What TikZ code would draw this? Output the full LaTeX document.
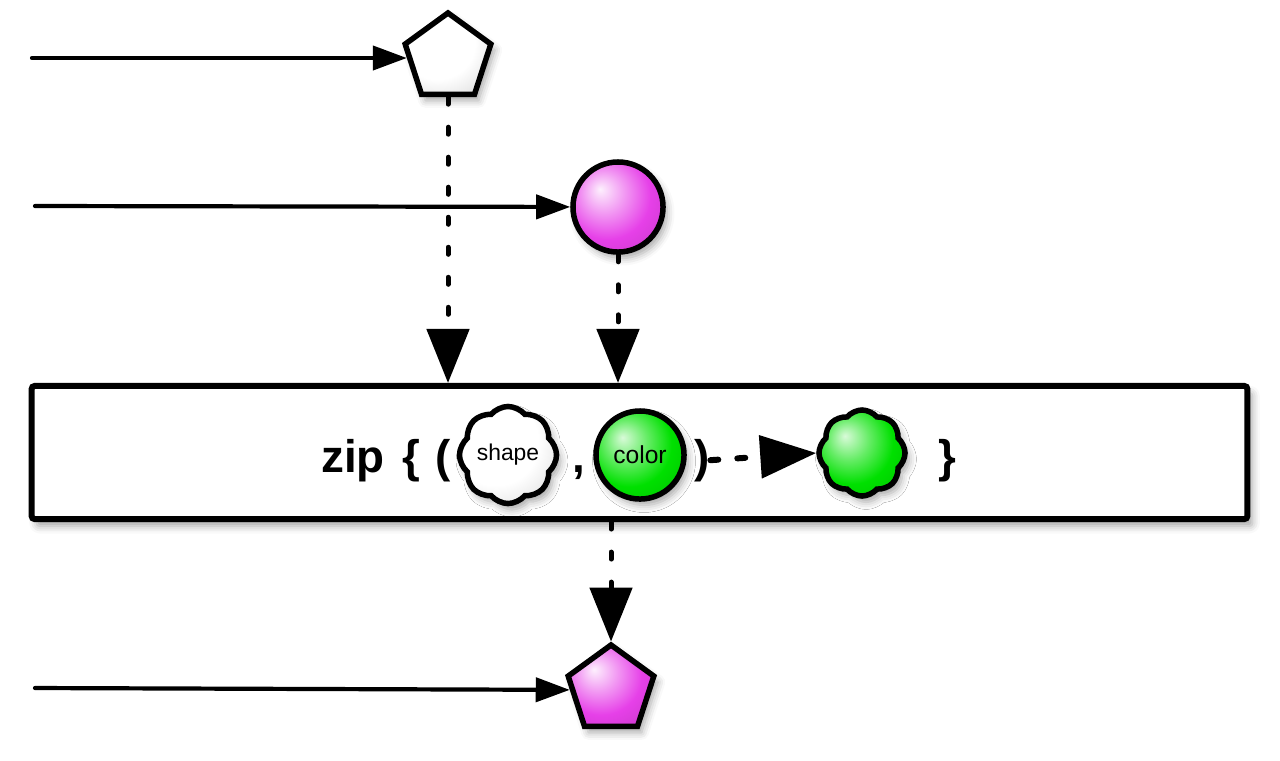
\documentclass[tikz,border=0pt]{standalone}
\usepackage{fontspec}
\setmainfont{Liberation Sans}
\usetikzlibrary{arrows.meta, shapes.geometric, shapes.symbols, shadows.blur}
\definecolor{my_magenta}{HTML}{E640E8}
\definecolor{my_green}{HTML}{00E000}

% glaenzende Fuellungen (Licht oben links)
\pgfdeclareradialshading{whiteshine}{\pgfpoint{-10bp}{10bp}}{%
    color(0bp)=(white); color(22bp)=(white); color(36bp)=(black!12);
    color(48bp)=(black!38); color(60bp)=(black!50)}
\pgfdeclareradialshading{magentashine}{\pgfpoint{-10bp}{10bp}}{%
    color(0bp)=(my_magenta!8!white); color(12bp)=(my_magenta!55!white);
    color(24bp)=(my_magenta); color(38bp)=(my_magenta!88!black);
    color(52bp)=(my_magenta!62!black); color(60bp)=(my_magenta!55!black)}
\pgfdeclareradialshading{greenshine}{\pgfpoint{-10bp}{10bp}}{%
    color(0bp)=(my_green!15!white); color(12bp)=(my_green!60!white);
    color(24bp)=(my_green); color(38bp)=(my_green!88!black);
    color(52bp)=(my_green!55!black); color(60bp)=(my_green!50!black)}

\begin{document}
\begin{tikzpicture}[
    x=0.01cm, y=-0.01cm,
    timeline/.style={draw=black, line width=0.042cm, line cap=round,
        -{Triangle[length=0.34cm, width=0.24cm]}},
    emission/.style={draw=black, line width=0.05cm, line cap=round,
        dash pattern=on 0.07cm off 0.23cm, -{Triangle[length=0.54cm, width=0.42cm]}},
    marble/.style={draw=black, line width=0.055cm, inner sep=0pt,
        blur shadow={shadow xshift=0.04cm, shadow yshift=-0.06cm, shadow opacity=35}},
    penta/.style={marble, regular polygon, regular polygon sides=5, minimum size=0.9cm},
    roundmarble/.style={marble, circle, minimum size=0.9cm},
    puff/.style={marble, cloud, cloud puffs=8, cloud puff arc=100, aspect=1,
        minimum width=0.92cm, minimum height=0.86cm, font=\fontsize{6.5}{7}\selectfont},
    optext/.style={font=\fontsize{13}{15}\selectfont\bfseries, anchor=base, inner sep=0pt}
]
\useasboundingbox (0,0) rectangle (1280,760);

% ================================================================
% Eingaenge: zwei Zeitachsen
% ================================================================
\coordinate (src1) at (32,58);
\coordinate (src2) at (35,206);

\node[penta, shading=whiteshine] (whitepenta) at (448,58) {};
\node[roundmarble, shading=magentashine] (inball) at (618,207) {};

\draw[timeline] (src1) -- (whitepenta);
\draw[timeline] (src2) -- (inball);

% ================================================================
% Operator-Box
% ================================================================
\node[draw=black, line width=0.06cm, fill=white, rounded corners=0.03cm,
    minimum width=12.15cm, minimum height=1.33cm,
    blur shadow={shadow xshift=0.05cm, shadow yshift=-0.07cm, shadow opacity=35}]
    (zipbox) at (639.5,452.5) {};

\draw[emission] (whitepenta.south) -- (whitepenta.south |- zipbox.north);
\draw[emission] (inball.south) -- (inball.south |- zipbox.north);

% Formel in der Box
\node[optext] (zipword) at (353,472) {zip};
\node[optext] (lbrace) at (411,472) {\{};
\node[optext] (lparen) at (443,472) {(};
\node[puff, shading=whiteshine] (shapecloud) at (508,455) {shape};
\node[optext] (comma) at (579,472) {,};
\node[roundmarble, minimum size=0.88cm, shading=greenshine,
    font=\fontsize{7}{8}\selectfont] (colorball) at (640,455) {color};
\node[optext] (rparen) at (702,472) {)};
\node[puff, minimum width=0.86cm, shading=greenshine] (greencloud) at (862,453) {};
\node[optext] (rbrace) at (947,472) {\}};

\draw[line width=0.06cm, line cap=round, dash pattern=on 0.08cm off 0.19cm,
    -{Triangle[length=0.56cm, width=0.42cm]}] (rparen.east) -- (greencloud.west);

% ================================================================
% Ausgang
% ================================================================
\coordinate (src3) at (35,688);
\node[penta, shading=magentashine] (outpenta) at (611,690) {};

\draw[emission] (zipbox.south -| outpenta.north) -- (outpenta.north);
\draw[timeline] (src3) -- (outpenta);

\end{tikzpicture}
\end{document}
